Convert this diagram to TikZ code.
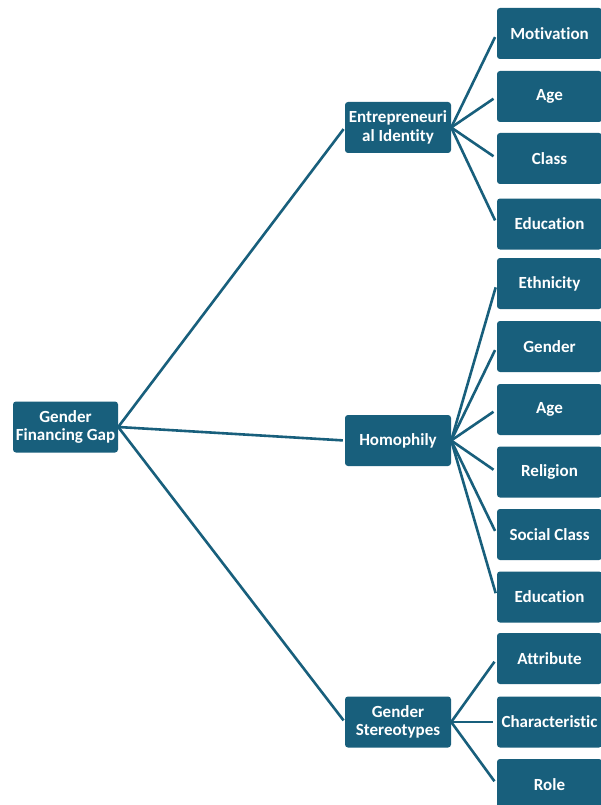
\documentclass[tikz,border=0pt]{standalone}
\usepackage{fontspec}
\setmainfont[Ligatures={NoCommon,NoContextual}]{Carlito}
\definecolor{boxblue}{RGB}{24,95,124}
\begin{document}
\begin{tikzpicture}[x=1pt,y=-1pt,
  box/.style={rectangle, rounded corners=3pt, fill=boxblue, text=white,
    minimum width=105pt, minimum height=51pt, inner sep=1pt, align=center,
    font=\fontsize{17}{18.5}\selectfont\bfseries},
  link/.style={draw=boxblue, line width=2.6pt}]
\clip (0,0) rectangle (601,805);
\fill[white] (0,0) rectangle (601,805);
% root and level 1
\node[box] (root) at (65.5,427) {Gender\\Financing Gap};
\node[box, minimum width=106pt] (ent) at (398,127.5) {Entrepreneuri\\al Identity};
\node[box, minimum width=106pt] (hom) at (398,440.5) {Homophily};
\node[box, minimum width=106pt] (ster) at (398,722) {Gender\\Stereotypes};
% leaves
\node[box] (mot) at (549.5,33.5) {Motivation};
\node[box] (age1) at (549.5,96.5) {Age};
\node[box] (cla) at (549.5,158.5) {Class};
\node[box] (edu1) at (549.5,224) {Education};
\node[box] (eth) at (549.5,283.5) {Ethnicity};
\node[box] (gen) at (549.5,346.5) {Gender};
\node[box] (age2) at (549.5,409.5) {Age};
\node[box] (rel) at (549.5,472) {Religion};
\node[box] (soc) at (549.5,534.5) {Social Class};
\node[box] (edu2) at (549.5,597) {Education};
\node[box] (att) at (549.5,658.5) {Attribute};
\node[box] (cha) at (549.5,722) {Characteristic};
\node[box] (rol) at (549.5,784.5) {Role};
% connectors
\foreach \t in {ent,hom,ster}
  \draw[link, shorten >=2pt] (root.east) -- (\t.west);
\foreach \t in {mot,age1,cla,edu1}
  \draw[link, shorten >=4pt] (ent.east) -- (\t.west);
\foreach \t in {eth,gen,age2,rel,soc,edu2}
  \draw[link, shorten >=4pt] (hom.east) -- (\t.west);
\foreach \t in {att,cha,rol}
  \draw[link, shorten >=4pt] (ster.east) -- (\t.west);
\end{tikzpicture}
\end{document}
